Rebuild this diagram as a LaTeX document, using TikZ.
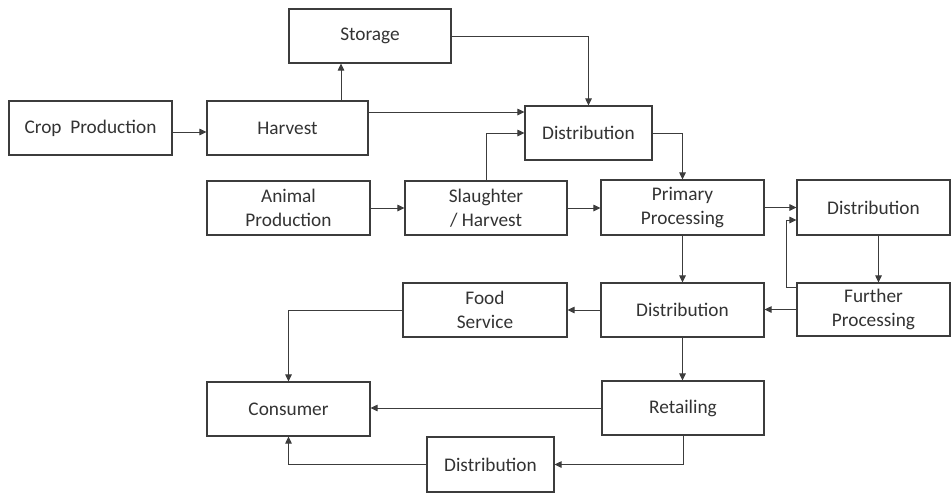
\documentclass[tikz,border=0pt]{standalone}
\usepackage{fontspec}
\setmainfont{Carlito}
\usetikzlibrary{arrows.meta,calc}
\definecolor{linec}{HTML}{3C3C3C}
\definecolor{textc}{HTML}{333333}
\begin{document}
\begin{tikzpicture}[x=1pt,y=1pt,
  box/.style={draw=linec,line width=1.1pt,fill=white,text=textc,align=center,
    minimum height=54pt,inner sep=0pt,font=\fontsize{19.3}{24.5}\selectfont},
  arr/.style={draw=linec,line width=1pt,-{Triangle[length=7pt,width=6.5pt]}}]
\useasboundingbox (0,0) rectangle (952,-493);
\node[box,minimum width=163pt] (crop) at (90.5,-128) {Crop~~Production};
\node[box,minimum width=162pt] (storage) at (370,-36) {Storage};
\node[box,minimum width=161pt] (harvest) at (287.5,-128) {Harvest};
\node[box,minimum width=127pt] (dist1) at (588.5,-133) {Distribution};
\node[box,minimum width=163pt] (animal) at (288.5,-208) {Animal\\Production};
\node[box,minimum width=162pt] (slaughter) at (486,-208) {Slaughter\\/ Harvest};
\node[box,minimum width=163pt,minimum height=55pt] (primary) at (682.5,-207.5) {Primary\\Processing};
\node[box,minimum width=153pt,minimum height=55pt] (dist2) at (873.5,-207.5) {Distribution};
\node[box,minimum width=164pt] (food) at (485,-310) {Food\\Service};
\node[box,minimum width=163pt] (dist3) at (682.5,-310) {Distribution};
\node[box,minimum width=153pt,minimum height=53pt] (further) at (873.5,-309.5) {Further\\Processing};
\node[box,minimum width=163pt] (consumer) at (288.5,-409) {Consumer};
\node[box,minimum width=162pt] (retail) at (683,-408) {Retailing};
\node[box,minimum width=127pt,minimum height=55pt] (dist4) at (490.5,-464.5) {Distribution};
% connectors
\draw[arr] ([yshift=-4pt]crop.east) -- ([yshift=-4pt]harvest.west);
\draw[arr] ([xshift=53.5pt]harvest.north) -- ([xshift=53.5pt]harvest.north |- storage.south);
\draw[arr] (storage.east) -| (dist1.north);
\draw[arr] ([yshift=16pt]harvest.east) -- ([yshift=16pt]harvest.east -| dist1.west);
\draw[arr] (slaughter.north) |- (dist1.west);
\draw[arr] (dist1.east) -| (primary.north);
\draw[arr] (animal.east) -- (slaughter.west);
\draw[arr] (slaughter.east) -- (slaughter.east -| primary.west);
\draw[arr] (primary.east) -- (dist2.west);
\draw[arr] ([xshift=5pt]dist2.south) -- ([xshift=5pt]dist2.south |- further.north);
\draw[arr] ([yshift=-5pt]further.north west) -- ++(-10pt,0) |- ([yshift=-12.5pt]dist2.west);
\draw[arr] (primary.south) -- (dist3.north);
\draw[arr] (further.west) -- (further.west -| dist3.east);
\draw[arr] (dist3.west) -- (dist3.west -| food.east);
\draw[arr] (food.west) -| (consumer.north);
\draw[arr] (dist3.south) -- (dist3.south |- retail.north);
\draw[arr] (retail.west) -- (retail.west -| consumer.east);
\draw[arr] (retail.south) |- (dist4.east);
\draw[arr] (dist4.west) -| (consumer.south);
\end{tikzpicture}
\end{document}
